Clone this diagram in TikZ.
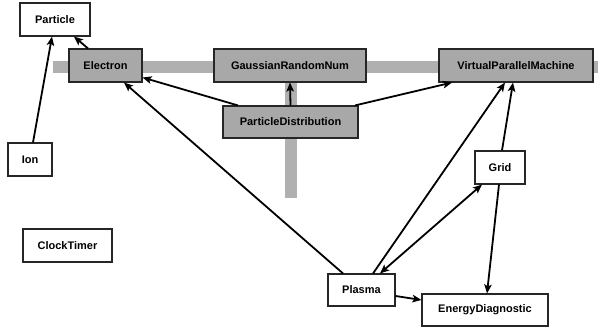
\documentclass[tikz,border=0pt]{standalone}
\usepackage{fontspec}
\setmainfont{Liberation Sans}
\usetikzlibrary{arrows.meta}
\definecolor{boxgray}{RGB}{168,168,168}
\definecolor{bargray}{RGB}{176,176,176}
\begin{document}
\begin{tikzpicture}[x=1pt,y=-1pt,
  cls/.style={draw=black!85,line width=1.1pt,fill=white,inner sep=0pt,
    font=\fontsize{11}{13}\selectfont\bfseries},
  pkg/.style={cls,fill=boxgray},
  tip/.tip={Stealth[length=9pt,width=7.5pt,inset=2pt]},
  arr/.style={draw=black,line width=1.8pt,-tip},
  dbl/.style={draw=black,line width=1.8pt,tip-tip}]
\useasboundingbox (0,0) rectangle (598,328);
% package bars behind the grey boxes
\fill[bargray] (53,61) rectangle (598,73);
\fill[bargray] (285,61) rectangle (297,198);
% classes
\node[cls,minimum width=70pt,minimum height=33pt] (particle) at (55,19.5) {Particle};
\node[pkg,minimum width=73pt,minimum height=33pt] (electron) at (105.5,65.5) {Electron};
\node[pkg,minimum width=152pt,minimum height=33pt] (grn) at (290,65.5) {GaussianRandomNum};
\node[pkg,minimum width=154pt,minimum height=33pt] (vpm) at (516,65.5) {VirtualParallelMachine};
\node[pkg,minimum width=135pt,minimum height=32pt] (pd) at (290.5,122) {ParticleDistribution};
\node[cls,minimum width=44pt,minimum height=33pt] (ion) at (30,159.5) {Ion};
\node[cls,minimum width=89pt,minimum height=33pt] (clock) at (67.5,245.5) {ClockTimer};
\node[cls,minimum width=50pt,minimum height=33pt] (grid) at (500,167.5) {Grid};
\node[cls,minimum width=67pt,minimum height=32pt] (plasma) at (361.5,290) {Plasma};
\node[cls,minimum width=126pt,minimum height=32pt] (ed) at (485,310) {EnergyDiagnostic};
% associations
\draw[arr] ([xshift=3pt]ion.north) -- ([xshift=-3pt]particle.south);
\draw[arr] ([xshift=-17.5pt]electron.north) -- ([xshift=19pt]particle.south);
\draw[arr] ([xshift=-52.5pt]pd.north) -- ([yshift=-12pt]electron.east);
\draw[arr] (pd.north) -- (grn.south);
\draw[arr] ([xshift=64.5pt]pd.north) -- ([xshift=-64pt]vpm.south);
\draw[arr] ([xshift=-18.5pt]plasma.north) -- ([xshift=18.5pt]electron.south);
\draw[arr] ([xshift=11.5pt]plasma.north) -- ([xshift=-11pt]vpm.south);
\draw[arr] ([xshift=2pt]grid.north) -- ([xshift=-3pt]vpm.south);
\draw[dbl] ([xshift=18.5pt]plasma.north) -- ([xshift=-18pt]grid.south);
\draw[arr] ([xshift=-1pt]grid.south) -- ([xshift=2pt]ed.north);
\draw[arr] ([yshift=-6pt]plasma.east) -- ([yshift=10pt]ed.west);
\end{tikzpicture}
\end{document}
